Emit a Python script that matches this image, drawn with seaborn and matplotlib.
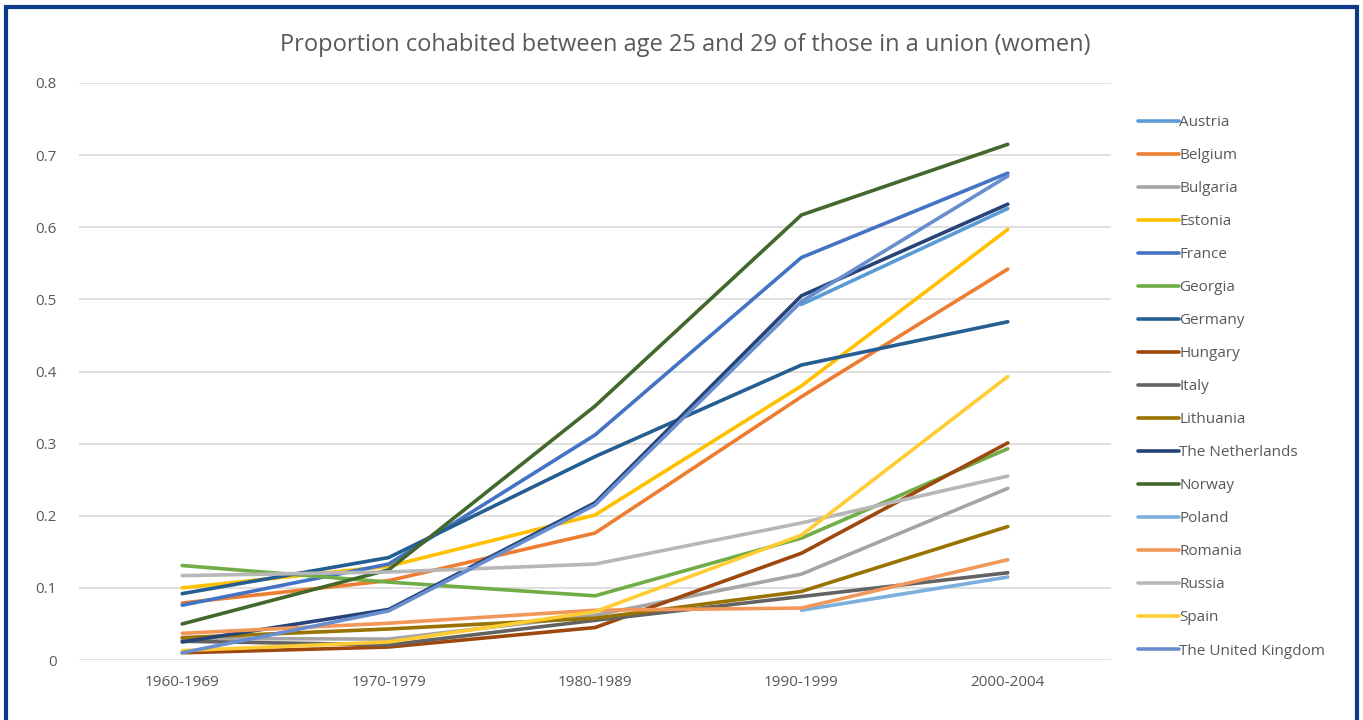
import numpy as np
import pandas as pd
import matplotlib
matplotlib.use("Agg")
import matplotlib.pyplot as plt
from matplotlib.patches import Rectangle
import seaborn as sns

periods = ["1960-1969", "1970-1979", "1980-1989", "1990-1999", "2000-2004"]

countries = ["Austria", "Belgium", "Bulgaria", "Estonia", "France", "Georgia",
             "Germany", "Hungary", "Italy", "Lithuania", "The Netherlands",
             "Norway", "Poland", "Romania", "Russia", "Spain",
             "The United Kingdom"]

austria     = [np.nan, np.nan, np.nan, 0.493, 0.626]
belgium     = [0.079, 0.110, 0.176, 0.365, 0.542]
bulgaria    = [0.030, 0.029, 0.062, 0.119, 0.238]
estonia     = [0.100, 0.130, 0.201, 0.380, 0.597]
france      = [0.076, 0.133, 0.312, 0.558, 0.675]
georgia     = [0.131, 0.108, 0.089, 0.169, 0.293]
germany     = [0.092, 0.142, 0.282, 0.409, 0.469]
hungary     = [0.010, 0.018, 0.045, 0.148, 0.301]
italy       = [0.026, 0.021, 0.055, 0.088, 0.121]
lithuania   = [0.031, 0.043, 0.058, 0.095, 0.185]
netherlands = [0.025, 0.070, 0.218, 0.505, 0.632]
norway      = [0.050, 0.125, 0.352, 0.617, 0.715]
poland      = [np.nan, np.nan, np.nan, 0.069, 0.115]
romania     = [0.037, 0.051, 0.069, 0.072, 0.139]
russia      = [0.117, 0.122, 0.133, 0.190, 0.255]
spain       = [0.013, 0.025, 0.067, 0.173, 0.393]
uk          = [0.010, 0.068, 0.215, 0.497, 0.671]

series = [austria, belgium, bulgaria, estonia, france, georgia, germany,
          hungary, italy, lithuania, netherlands, norway, poland, romania,
          russia, spain, uk]

colors = ["#5B9BD5", "#ED7D31", "#A5A5A5", "#FFC000", "#4472C4", "#70AD47",
          "#255E91", "#9E480E", "#636363", "#997300", "#264478", "#43682B",
          "#7CAFDD", "#F1975A", "#B7B7B7", "#FFCD33", "#698ED0"]

rows = []
for c, vals in zip(countries, series):
    for p, v in zip(periods, vals):
        rows.append({"period": p, "country": c, "value": v})
df = pd.DataFrame(rows).dropna()
df["period"] = pd.Categorical(df["period"], categories=periods, ordered=True)
df = df.sort_values(["period"], kind="stable")

sns.set_style("white")
plt.rcParams["font.family"] = ["Open Sans", "DejaVu Sans"]

fig = plt.figure(figsize=(13.63, 7.2), dpi=100)
ax = fig.add_axes([79 / 1363, 60 / 720, 1032 / 1363, 577 / 720])

sns.lineplot(data=df, x="period", y="value", hue="country",
             hue_order=countries, palette=dict(zip(countries, colors)),
             linewidth=2.6, ax=ax)

ax.set_xlim(-0.5, 4.5)
ax.set_ylim(0, 0.8)
ax.set_yticks(np.arange(0, 0.81, 0.1))
ax.set_yticklabels(["0"] + [f"{v:.1f}" for v in np.arange(0.1, 0.81, 0.1)])
ax.set_xlabel("")
ax.set_ylabel("")
ax.grid(axis="y", color="#D9D9D9", linewidth=1.2)
ax.set_axisbelow(True)
for s in ax.spines.values():
    s.set_visible(False)
ax.tick_params(axis="both", length=0, labelsize=11, labelcolor="#595959")
ax.tick_params(axis="y", pad=16)
ax.tick_params(axis="x", pad=11)

fig.text(0.503, 1 - 45 / 720, "Proportion cohabited between age 25 and 29 of those in a union (women)",
         fontsize=17, color="#595959", ha="center", va="center")

handles, labels = ax.get_legend_handles_labels()
leg = ax.legend(handles, labels, loc="upper left", bbox_to_anchor=(1.02, 0.955),
                frameon=False, fontsize=11, labelspacing=1.18,
                handlelength=2.7, handletextpad=0.0, borderaxespad=0)
for t in leg.get_texts():
    t.set_color("#595959")
for h in leg.get_lines():
    h.set_linewidth(2.6)

fig.patches.append(Rectangle((6 / 1363, -0.02), 1351 / 1363, 1 - 7 / 720 + 0.02,
                             transform=fig.transFigure, fill=False,
                             edgecolor="#0B3A8A", linewidth=3))

fig.savefig("out.png", dpi=100)
